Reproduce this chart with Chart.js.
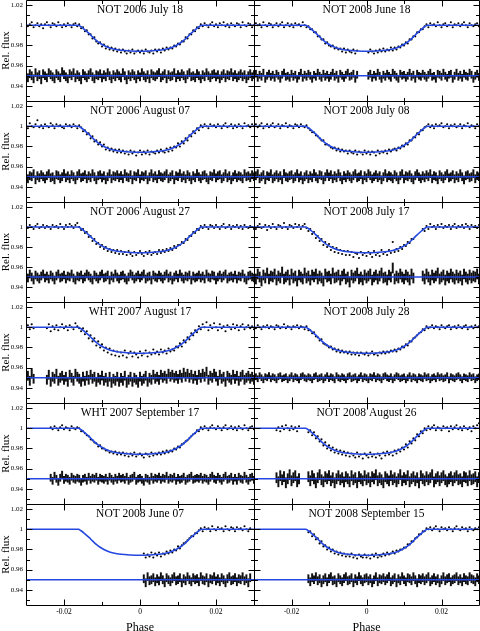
<!DOCTYPE html>
<html><head><meta charset="utf-8">
<script src="https://cdn.jsdelivr.net/npm/chart.js@4.4.1/dist/chart.umd.min.js"></script>
<style>html,body{margin:0;padding:0;background:#fff;width:480px;height:631px;overflow:hidden;position:relative}canvas{position:absolute}</style>
</head><body>
<script>
const _ = null;
// ---------- DATA ----------
const panelTitles = ["NOT 2006 July 18","NOT 2008 June 18","NOT 2006 August 07","NOT 2008 July 08",
  "NOT 2006 August 27","NOT 2008 July 17","WHT 2007 August 17","NOT 2008 July 28",
  "WHT 2007 September 17","NOT 2008 August 26","NOT 2008 June 07","NOT 2008 September 15"];
const xTickValues = [-0.02, 0, 0.02];
const xTickLabels = ["-0.02", "0", "0.02"];
const xTickMarks = [-0.02, -0.01, 0, 0.01, 0.02];
const yTickValues = [0.94, 0.96, 0.98, 1, 1.02];
const yTickLabels = ["0.94", "0.96", "0.98", "1", "1.02"];
const yTickMarks = [0.93, 0.94, 0.95, 0.96, 0.97, 0.98, 0.99, 1, 1.01, 1.02];
const residualOffset = 0.95;
const residualErr = [0.004,0.0035,0.004,0.004,0.004,0.005,0.0045,0.003,0.0035,0.005,0.004,0.004];

const modelPhase = [-.03,-.0162,-.0155,-.0145,-.0135,-.0125,-.0115,-.0105,-.0095,-.0085,-.007,-.005,-.0025,0,
  .0025,.005,.007,.0085,.0095,.0105,.0115,.0125,.0135,.0145,.0155,.0162,.03];
const modelFlux = [1,1,.9985,.9955,.9922,.9885,.985,.9822,.98,.9782,.9765,.9752,.9745,.9742,
  .9745,.9752,.9765,.9782,.98,.9822,.985,.9885,.9922,.9955,.9985,1,1];

const phase = [
-.03,-.0295,-.029,-.0285,-.028,-.0275,-.027,-.0265,-.026,-.0255,
-.025,-.0245,-.024,-.0235,-.023,-.0225,-.022,-.0215,-.021,-.0205,
-.02,-.0195,-.019,-.0185,-.018,-.0175,-.017,-.0165,-.016,-.0155,
-.015,-.0145,-.014,-.0135,-.013,-.0125,-.012,-.0115,-.011,-.0105,
-.01,-.0095,-.009,-.0085,-.008,-.0075,-.007,-.0065,-.006,-.0055,
-.005,-.0045,-.004,-.0035,-.003,-.0025,-.002,-.0015,-.001,-.0005,
0,.0005,.001,.0015,.002,.0025,.003,.0035,.004,.0045,
.005,.0055,.006,.0065,.007,.0075,.008,.0085,.009,.0095,
.01,.0105,.011,.0115,.012,.0125,.013,.0135,.014,.0145,
.015,.0155,.016,.0165,.017,.0175,.018,.0185,.019,.0195,
.02,.0205,.021,.0215,.022,.0225,.023,.0235,.024,.0245,
.025,.0255,.026,.0265,.027,.0275,.028,.0285,.029,.0295,.03];

const flux01 = [
1.002,.999,1.001,1.003,.998,1,1.002,.999,1.001,.997,
1.001,1.003,1,.998,1.002,1.001,.999,1.003,1,.998,
1.001,.999,1.002,1,.998,1.001,1.002,.999,1.001,.997,
.998,.994,.995,.991,.991,.987,.988,.984,.982,.983,
.979,.981,.977,.979,.976,.978,.975,.977,.974,.976,
.973,.976,.974,.972,.975,.973,.976,.972,.974,.975,
.973,.975,.972,.976,.974,.973,.975,.972,.976,.974,
.976,.973,.977,.975,.978,.976,.978,.977,.980,.979,
.982,.981,.984,.984,.988,.987,.991,.991,.995,.994,
.998,.997,1.001,.999,1.002,1,.998,1.001,1.003,.999,
1.001,.998,1.002,1,1.003,.999,1.001,.998,1.002,1,
.999,1.002,1.001,.998,1.003,1,.999,1.002,1.001,.998,1];
const res01 = [
.951,.948,.952,.950,.947,.953,.949,.951,.946,.952,
.950,.948,.953,.951,.949,.947,.952,.950,.948,.954,
.951,.949,.947,.952,.950,.953,.948,.951,.949,.946,
.952,.950,.948,.951,.953,.949,.947,.951,.950,.952,
.948,.951,.949,.953,.950,.947,.951,.949,.952,.950,
.948,.953,.950,.946,.951,.949,.952,.950,.947,.951,
.949,.953,.950,.948,.951,.947,.952,.950,.949,.951,
.953,.948,.950,.952,.947,.951,.949,.950,.953,.948,
.951,.949,.952,.950,.947,.951,.953,.949,.950,.948,
.952,.950,.947,.951,.949,.953,.950,.948,.951,.952,
.949,.951,.947,.950,.952,.948,.951,.950,.953,.949,
.951,.948,.950,.952,.949,.951,.947,.950,.952,.949,.951];

const flux02 = [
.999,1.002,1,1.001,.998,1.003,1,.999,1.002,1.001,
.998,1,1.002,.999,1.001,1.003,.998,1,1.002,.999,
1.001,.998,1.002,1,1.001,.999,1.003,1,.998,.999,
.996,.996,.993,.993,.989,.989,.986,.986,.982,.983,
.980,.979,.980,.977,.978,.976,.977,.974,.977,.973,
.976,.974,.973,.976,.972,.975,_,_,_,_,
_,.973,.976,.974,.972,.975,.973,.976,.974,.977,
.974,.976,.975,.978,.975,.978,.976,.979,.978,.981,
.980,.983,.982,.986,.986,.989,.989,.993,.993,.996,
.996,.999,1.001,.998,1.002,1,1.001,.999,1.003,1,
.998,1.001,1.002,.999,1,1.003,.998,1.001,1,1.002,
.999,1.001,1.003,1,.998,1.002,1,.999,1.001,1.002,.999];
const res02 = [
.950,.952,.948,.951,.949,.953,.947,.950,.952,.949,
.951,.948,.952,.950,.947,.951,.953,.949,.950,.948,
.952,.949,.951,.947,.950,.953,.948,.951,.949,.952,
.950,.947,.951,.949,.953,.950,.948,.952,.949,.951,
.948,.950,.953,.949,.951,.947,.952,.950,.948,.951,
.953,.949,.950,.952,.947,.951,_,_,_,_,
_,.950,.952,.948,.951,.949,.953,.950,.947,.951,
.949,.952,.950,.948,.953,.951,.949,.947,.952,.950,
.951,.948,.950,.953,.949,.951,.947,.952,.950,.949,
.952,.950,.948,.951,.953,.949,.950,.947,.952,.951,
.949,.953,.950,.948,.951,.952,.947,.950,.953,.949,
.951,.948,.952,.950,.949,.953,.951,.947,.950,.952,.949];

const flux03 = [
1.001,.998,1.003,1,.999,1.002,1.006,.999,1.001,.998,
1.002,1,.999,1.003,1.001,.998,1.002,1,1.001,.999,
.998,1.002,1,1.001,.999,1.002,1,.998,1.001,.999,
.995,.996,.992,.993,.988,.990,.985,.986,.982,.984,
.980,.982,.977,.979,.976,.978,.975,.977,.974,.977,
.974,.976,.973,.975,.972,.976,.973,.975,.971,.974,
.976,.972,.975,.973,.976,.972,.975,.974,.973,.976,
.974,.977,.975,.974,.978,.975,.979,.976,.980,.979,
.983,.980,.985,.983,.988,.986,.991,.990,.995,.993,
.998,.996,1.001,.999,1.002,1,.998,1.002,1,1.001,
.999,1.002,1,.998,1.001,1.003,.999,1,1.002,.998,
1.001,.999,1.002,1,.998,1.003,1,1.001,.999,1.002,1];
const res03 = [
.952,.948,.951,.950,.953,.947,.951,.949,.952,.950,
.948,.951,.953,.949,.950,.947,.952,.951,.948,.950,
.953,.949,.951,.948,.952,.950,.947,.951,.953,.949,
.950,.952,.948,.951,.949,.953,.950,.947,.951,.952,
.949,.951,.947,.950,.953,.948,.951,.950,.952,.949,
.951,.948,.953,.950,.949,.952,.947,.951,.950,.953,
.948,.951,.950,.952,.947,.950,.953,.949,.951,.948,
.952,.950,.949,.951,.953,.948,.950,.952,.947,.951,
.950,.953,.949,.951,.948,.952,.950,.947,.951,.949,
.953,.950,.948,.951,.952,.949,.947,.951,.950,.953,
.949,.951,.952,.948,.950,.953,.949,.951,.947,.950,
.952,.949,.951,.950,.948,.953,.950,.951,.949,.952,.950];

const flux04 = [
1,1.002,.999,1.001,1.003,.998,1,1.002,.999,1.001,
1.003,.999,1,1.002,.998,1.001,1,1.003,.999,1.001,
1,.998,1.002,1.001,.999,1.002,1,.999,1.001,.998,
.996,.994,.994,.991,.990,.988,.986,.986,.982,.982,
.981,.979,.978,.979,.976,.978,.975,.977,.975,.976,
.973,.976,.974,.973,.976,.972,.975,.974,.972,.976,
.973,.975,.972,.975,.974,.971,.976,.973,.975,.974,
.976,.973,.977,.975,.977,.978,.976,.979,.978,.981,
.980,.983,.982,.986,.986,.989,.989,.993,.992,.996,
.996,.999,1,1.002,.999,1.001,.998,1.002,1,1.001,
1.003,.999,1,1.002,.998,1.001,1,1.002,.999,1,
1.002,.998,1.001,1,1.003,.999,1.001,1,.998,1.002,1];
const res04 = [
.949,.951,.953,.948,.950,.952,.947,.951,.950,.953,
.948,.950,.952,.949,.951,.947,.953,.950,.949,.951,
.952,.948,.950,.953,.949,.951,.947,.950,.952,.948,
.951,.949,.953,.950,.948,.952,.951,.947,.950,.953,
.950,.952,.948,.951,.949,.953,.950,.947,.951,.949,
.952,.950,.948,.951,.953,.949,.950,.952,.947,.951,
.949,.953,.951,.948,.950,.952,.949,.951,.947,.950,
.953,.949,.951,.950,.948,.952,.950,.947,.951,.953,
.948,.951,.950,.952,.949,.947,.951,.953,.950,.948,
.951,.949,.952,.950,.953,.948,.951,.950,.947,.952,
.950,.948,.951,.953,.949,.950,.952,.948,.951,.949,
.953,.950,.947,.951,.952,.949,.950,.953,.948,.951,.950];

const flux05 = [
1.001,.999,1.002,1,.998,1.001,1.003,.999,1,1.002,
.999,1.001,1,.998,1.002,1,1.001,.999,1.003,1,
.998,1.002,1,1.003,1.001,.999,1.002,1.004,1,.997,
.998,.994,.995,.990,.991,.986,.988,.983,.984,.980,
.982,.978,.980,.976,.978,.975,.977,.974,.977,.973,
.976,.973,.975,.972,.976,.973,.971,.975,.972,.974,
.976,.973,.971,.975,.973,.976,.972,.974,.975,.973,
.977,.974,.977,.975,.978,.976,.979,.977,.981,.979,
.982,.982,.985,.984,.988,.987,.991,.991,.995,.994,
.998,.997,1.001,.999,1.002,1,.998,1.002,1.001,.999,
1.002,1,.998,1.001,1.003,.999,1,1.002,.998,1.001,
1,1.002,.999,1.001,.998,1.002,1,.999,1.001,1,.998];
const res05 = [
.951,.949,.953,.950,.947,.952,.950,.948,.951,.953,
.949,.951,.948,.952,.950,.947,.951,.953,.949,.950,
.952,.948,.951,.950,.953,.949,.947,.951,.950,.952,
.948,.950,.953,.951,.949,.947,.952,.950,.948,.951,
.953,.949,.950,.952,.947,.951,.949,.953,.950,.948,
.951,.952,.949,.947,.950,.953,.951,.948,.950,.952,
.949,.951,.953,.948,.950,.951,.947,.952,.950,.949,
.952,.950,.948,.951,.953,.949,.951,.947,.950,.952,
.949,.953,.950,.948,.951,.950,.952,.947,.951,.949,
.950,.952,.949,.951,.948,.953,.950,.949,.952,.951,
.947,.950,.952,.949,.951,.953,.948,.950,.951,.949,
.952,.948,.951,.950,.953,.949,.947,.951,.952,.950,.949];

const flux06 = [
1.002,.998,1.001,1.003,.999,1,1.002,.997,1.001,.999,
1.003,1,.998,1.002,1.001,.999,1.004,1,.998,1.002,
1.001,.999,1.003,1,1.002,.998,1.001,1.003,.999,.996,
.998,.993,.995,.989,.991,.986,.988,.982,.985,.980,
.983,.977,.980,.975,.979,.974,.977,.973,.976,.972,
.976,.972,.975,.970,.974,.973,.969,.975,.972,.974,
.971,.975,.973,.970,.976,.972,.974,.971,.977,.973,
.975,.972,.977,.974,.985,.975,.978,.976,.980,.978,
.982,.981,.985,.984,.988,.988,_,_,_,_,
.998,.996,1.001,.998,1.003,1,1.001,.998,1.002,1,
1.003,.999,1.001,1,1.002,.998,1.001,1.003,.999,1.001,
1,1.002,.999,1.003,1.001,.998,1.002,1,1.001,.999,1.002];
const res06 = [
.951,.948,.953,.950,.946,.952,.949,.954,.948,.951,
.950,.953,.947,.951,.949,.955,.948,.950,.952,.947,
.953,.949,.951,.946,.952,.950,.948,.954,.949,.951,
.947,.952,.950,.953,.948,.951,.949,.946,.953,.950,
.951,.948,.954,.949,.950,.952,.947,.951,.953,.948,
.950,.945,.952,.949,.951,.954,.948,.950,.947,.952,
.949,.951,.953,.947,.950,.952,.948,.951,.954,.949,
.950,.947,.952,.950,.959,.948,.951,.949,.953,.950,
.948,.952,.950,.947,.953,.949,_,_,_,_,
.951,.948,.953,.950,.947,.952,.949,.951,.954,.948,
.950,.952,.947,.951,.949,.953,.950,.948,.952,.949,
.951,.947,.953,.950,.948,.952,.949,.951,.950,.953,.948];

const flux07 = [
_,1.002,.998,1.003,.999,_,_,_,_,_,
_,.999,1.003,.996,1.001,.998,1.002,.997,1,1.003,
.999,1.001,.997,1.002,1,.998,1.004,1.001,.999,.996,
.999,.993,.996,.989,.992,.986,.989,.982,.986,.980,
.983,.977,.980,.975,.979,.973,.977,.972,.976,.971,
.975,.972,.977,.970,.974,.976,.971,.975,.973,.970,
.976,.972,.974,.977,.971,.975,.973,.978,.974,.976,
.973,.978,.975,.977,.974,.979,.976,.978,.977,.981,
.980,.984,.981,.987,.985,.990,.988,.994,.992,.997,
.995,1.001,.998,1.003,1,1.005,.997,1.002,.999,1.004,
1,.997,1.003,.999,1.001,.996,1.002,1,.998,1.003,
.999,1.002,.997,1.001,1.003,.998,1,1.002,.999,1.001,.998];
const res07 = [
_,.952,.947,.954,.949,_,_,_,_,_,
_,.948,.953,.946,.951,.949,.954,.947,.950,.952,
.948,.951,.946,.953,.950,.947,.954,.951,.949,.946,
.951,.947,.952,.948,.953,.949,.951,.946,.950,.948,
.952,.947,.950,.946,.951,.945,.949,.947,.951,.946,
.950,.947,.952,.945,.948,.951,.946,.950,.948,.945,
.951,.947,.949,.952,.946,.950,.948,.953,.949,.951,
.948,.953,.950,.952,.949,.954,.951,.953,.950,.952,
.949,.953,.950,.955,.951,.954,.950,.953,.949,.952,
.948,.953,.950,.954,.951,.956,.948,.952,.950,.954,
.951,.947,.953,.949,.951,.946,.952,.950,.948,.953,
.949,.952,.947,.951,.953,.948,.950,.952,.949,.951,.948];

const flux08 = [
1.001,.999,1.002,1,.998,1.001,1,1.002,.999,1.001,
1,.998,1.002,1.001,.999,1,1.003,.999,1.001,1,
.998,1.001,1,1.002,.999,1.001,1,.998,1.001,.997,
.997,.994,.995,.991,.990,.987,.988,.984,.983,.982,
.980,.981,.978,.979,.976,.978,.975,.977,.975,.976,
.974,.976,.973,.975,.973,.975,.972,.975,.974,.973,
.975,.972,.974,.976,.973,.974,.972,.975,.974,.976,
.974,.976,.975,.977,.976,.978,.976,.979,.978,.981,
.980,.983,.982,.986,.986,.989,.990,.992,.994,.995,
.998,.997,1.001,.999,1,1.002,.999,1.001,1,.998,
1.002,1,.999,1.001,1.002,.998,1,1.001,.999,1.002,
1,.999,1.001,1.002,.998,1,1.001,.999,1.002,1,1.001];
const res08 = [
.950,.951,.949,.952,.950,.948,.951,.950,.952,.949,
.951,.950,.948,.951,.952,.949,.950,.951,.948,.950,
.952,.949,.951,.950,.948,.951,.952,.950,.949,.951,
.950,.948,.951,.952,.949,.950,.951,.948,.950,.952,
.949,.951,.950,.948,.952,.950,.949,.951,.950,.948,
.951,.952,.949,.950,.951,.948,.950,.952,.949,.951,
.950,.948,.951,.950,.952,.949,.951,.950,.948,.951,
.952,.950,.949,.951,.948,.950,.952,.951,.949,.950,
.951,.948,.950,.952,.949,.951,.950,.948,.951,.950,
.949,.952,.950,.951,.948,.950,.951,.949,.952,.950,
.951,.949,.950,.952,.948,.951,.950,.949,.951,.952,
.950,.948,.951,.950,.949,.952,.950,.951,.948,.950,.951];

const flux09 = [
_,_,_,_,_,_,_,_,_,_,
_,_,_,1.001,.999,1.002,1,.998,1.001,1.003,
.999,1.001,1,.998,1.002,1,.999,1.001,1,.997,
.997,.995,.993,.992,.989,.988,.986,.985,.982,.983,
.980,.980,.978,.978,.976,.977,.975,.977,.974,.976,
.974,.976,.973,.975,.972,.975,.973,.976,.972,.974,
.975,.973,.971,.975,.974,.972,.976,.973,.975,.974,
.976,.974,.977,.975,.978,.976,.978,.977,.980,.979,
.982,.981,.984,.985,.987,.988,.990,.992,.994,.995,
.998,.997,1.001,.999,1.002,1,.998,1.001,1.003,1,
.999,1.002,1,.998,1.001,1.003,.999,1,1.002,.999,
1.001,.998,1.002,1,.999,1.003,1,.998,1.001,1.002,.999];
const res09 = [
_,_,_,_,_,_,_,_,_,_,
_,_,_,.951,.948,.953,.950,.947,.951,.954,
.949,.951,.950,.948,.952,.950,.949,.951,.950,.947,
.950,.951,.948,.952,.949,.951,.950,.952,.948,.951,
.950,.949,.951,.948,.952,.950,.948,.951,.949,.952,
.950,.951,.949,.952,.948,.950,.951,.953,.948,.950,
.951,.949,.947,.951,.950,.948,.952,.949,.951,.950,
.952,.949,.951,.950,.953,.949,.951,.950,.952,.948,
.951,.949,.950,.952,.948,.950,.951,.953,.949,.950,
.951,.950,.952,.949,.951,.950,.948,.951,.953,.950,
.949,.952,.950,.948,.951,.953,.949,.950,.952,.948,
.951,.948,.952,.950,.949,.953,.950,.948,.951,.952,.949];

const flux10 = [
_,_,_,_,_,_,_,_,_,_,
_,_,.998,1.001,.997,1.002,.999,1.003,1,.998,
1.002,.999,1.001,.997,1.002,_,_,_,_,.996,
.998,.993,.996,.990,.992,.987,.989,.983,.986,.980,
.983,.978,.981,.976,.979,.975,.978,.974,.977,.973,
.976,.972,.975,.973,.971,.976,.972,.974,.970,.975,
.973,.971,.976,.972,.974,.971,.975,.973,.970,.976,
.973,.977,.974,.976,.973,.978,.975,.979,.977,.981,
.979,.984,.981,.987,.985,.990,.988,.994,.992,.997,
.995,1,.998,1.002,.999,1.001,1.003,.998,1.001,1,
.998,1.002,1,1.001,.997,1.002,.999,1.001,1.003,.999,
1.001,.998,1.002,1,.999,1.001,.997,1.002,1,1.003,1.005];
const res10 = [
_,_,_,_,_,_,_,_,_,_,
_,_,.951,.947,.953,.949,.952,.946,.950,.954,
.948,.951,.953,.947,.950,_,_,_,_,.952,
.948,.953,.950,.946,.951,.954,.949,.947,.952,.950,
.953,.948,.951,.946,.950,.953,.949,.951,.947,.952,
.950,.947,.953,.949,.951,.946,.952,.950,.948,.953,
.949,.951,.947,.952,.950,.954,.948,.951,.949,.946,
.952,.950,.948,.953,.949,.951,.947,.950,.954,.948,
.951,.949,.953,.947,.950,.952,.948,.951,.946,.953,
.950,.948,.952,.949,.951,.954,.947,.950,.952,.948,
.951,.953,.949,.947,.950,.952,.948,.951,.953,.949,
.950,.947,.952,.951,.948,.953,.949,.950,.952,.947,.951];

const flux11 = [
_,_,_,_,_,_,_,_,_,_,
_,_,_,_,_,_,_,_,_,_,
_,_,_,_,_,_,_,_,_,_,
_,_,_,_,_,_,_,_,_,_,
_,_,_,_,_,_,_,_,_,_,
_,_,_,_,_,_,_,_,_,_,
_,_,.976,.972,.975,.973,.977,.972,.976,.974,
.977,.973,.976,.975,.978,.976,.979,.977,.980,.979,
.983,.981,.984,.986,.987,.989,.991,.993,.993,.996,
.996,.999,1.001,.998,1.002,1,1.001,.998,1.003,1,
.999,1.002,1,1.001,.998,1.003,1,.999,1.002,1.001,
.998,1.002,1,1.001,.999,1.003,1,.998,1.001,_,_];
const res11 = [
_,_,_,_,_,_,_,_,_,_,
_,_,_,_,_,_,_,_,_,_,
_,_,_,_,_,_,_,_,_,_,
_,_,_,_,_,_,_,_,_,_,
_,_,_,_,_,_,_,_,_,_,
_,_,_,_,_,_,_,_,_,_,
_,_,.951,.947,.953,.949,.950,.952,.948,.951,
.949,.953,.950,.947,.952,.950,.948,.951,.953,.949,
.950,.952,.947,.951,.949,.953,.950,.948,.952,.950,
.951,.948,.953,.950,.949,.952,.947,.951,.950,.953,
.949,.951,.948,.952,.950,.947,.951,.953,.949,.950,
.952,.948,.951,.950,.953,.949,.951,.947,.952,_,_];

const flux12 = [
_,_,_,_,_,_,_,_,_,_,
_,_,_,_,_,_,_,_,_,_,
_,_,_,_,_,_,_,_,_,.997,
.998,.993,.995,.990,.991,.986,.988,.983,.984,.980,
.982,.978,.980,.976,.978,.975,.977,.974,.976,.973,
.975,.973,.976,.972,.974,.971,.975,.973,.972,.975,
.972,.974,.971,.975,.973,.976,.972,.974,.973,.976,
.974,.977,.975,.976,.978,.976,.979,.978,.980,.980,
.982,.982,.985,.985,.988,.988,.991,.992,.995,.995,
.998,.998,1.001,1,1.002,.999,1.001,1.003,1,.998,
1.002,1,1.001,.999,1.002,1,.998,1.001,1.003,1,
.999,1.002,1,1.001,.998,1.002,1,.999,1.001,1,1.002];
const res12 = [
_,_,_,_,_,_,_,_,_,_,
_,_,_,_,_,_,_,_,_,_,
_,_,_,_,_,_,_,_,_,.951,
.948,.952,.950,.953,.949,.951,.947,.950,.952,.948,
.951,.953,.949,.950,.947,.952,.950,.948,.951,.953,
.949,.950,.952,.947,.951,.949,.953,.950,.948,.951,
.952,.949,.951,.947,.950,.953,.948,.951,.950,.952,
.949,.951,.953,.948,.950,.952,.947,.951,.949,.953,
.950,.948,.952,.951,.949,.953,.950,.947,.951,.950,
.952,.949,.951,.953,.948,.950,.952,.949,.951,.947,
.950,.953,.949,.951,.952,.948,.950,.951,.953,.949,
.951,.948,.952,.950,.949,.953,.951,.950,.948,.952,.950];

const fluxSets = [flux01,flux02,flux03,flux04,flux05,flux06,flux07,flux08,flux09,flux10,flux11,flux12];
const resSets = [res01,res02,res03,res04,res05,res06,res07,res08,res09,res10,res11,res12];

// ---------- LAYOUT / STYLE ----------
const rowTops = [0,101,202,302,403,504];
const rowBottoms = [101,202,302,403,504,605];
const BLUE = '#2447e0';
const FONT = '"Liberation Serif","DejaVu Serif",serif';

const framePlugin = {
  id: 'frame',
  afterDatasetsDraw(chart, args, opts) {
    const {ctx, chartArea: a, scales: {x, y}} = chart;
    ctx.save();
    ctx.strokeStyle = '#000'; ctx.lineWidth = 1;
    const L = Math.round(a.left) + 0.5, R = Math.round(a.right) + 0.5;
    const T = Math.round(a.top) + 0.5, B = Math.round(a.bottom) + 0.5;
    ctx.beginPath();
    ctx.rect(L, T, R - L, B - T);
    xTickMarks.forEach(v => {
      const px = Math.round(x.getPixelForValue(v)) + 0.5;
      const len = xTickValues.includes(v) ? 6 : 3.5;
      ctx.moveTo(px, T); ctx.lineTo(px, T + len);
      ctx.moveTo(px, B); ctx.lineTo(px, B - len);
    });
    yTickMarks.forEach(v => {
      const py = Math.round(y.getPixelForValue(v)) + 0.5;
      const len = yTickValues.some(t => Math.abs(t - v) < 1e-9) ? 6 : 3.5;
      ctx.moveTo(L, py); ctx.lineTo(L + len, py);
      ctx.moveTo(R, py); ctx.lineTo(R - len, py);
    });
    ctx.stroke();
    ctx.fillStyle = '#000';
    ctx.font = '11.5px ' + FONT;
    ctx.textAlign = 'center'; ctx.textBaseline = 'middle';
    ctx.fillText(opts.title, (a.left + a.right) / 2, a.top + 10);
    ctx.restore();
  }
};

function zeroScalePadding(s) {
  s.paddingTop = 0; s.paddingBottom = 0; s.paddingLeft = 0; s.paddingRight = 0;
}

panelTitles.forEach((title, k) => {
  const row = Math.floor(k / 2), col = k % 2;
  const isLeft = col === 0, isBottom = row === 5;
  const cv = document.createElement('canvas');
  const top = rowTops[row] - 2;
  const h = isBottom ? 640 - top : (rowBottoms[row] - rowTops[row]) + 4;
  const w = isLeft ? 256 : 230;
  cv.width = w; cv.height = h;
  cv.style.left = (isLeft ? 0 : 252) + 'px';
  cv.style.top = top + 'px';
  cv.style.width = w + 'px'; cv.style.height = h + 'px';
  document.body.appendChild(cv);

  const flux = fluxSets[k], res = resSets[k], err = residualErr[k];
  const lcPts = [], barPts = [];
  phase.forEach((p, i) => {
    if (flux[i] !== null && flux[i] !== undefined) lcPts.push({x: p, y: flux[i]});
    if (res[i] !== null && res[i] !== undefined) barPts.push({x: p, y: [res[i] - err, res[i] + err]});
  });
  const modelPts = modelPhase.map((p, i) => ({x: p, y: modelFlux[i]}));
  const zeroPts = [{x: -0.03, y: residualOffset}, {x: 0.03, y: residualOffset}];

  new Chart(cv, {
    type: 'scatter',
    data: { datasets: [
      {type: 'line', data: modelPts, borderColor: BLUE, borderWidth: 1.6, pointRadius: 0,
       cubicInterpolationMode: 'monotone', fill: false, order: 0},
      {type: 'line', data: zeroPts, borderColor: BLUE, borderWidth: 1.6, pointRadius: 0, fill: false, order: 1},
      {type: 'scatter', data: lcPts, pointRadius: 1.05, pointHoverRadius: 0, pointBackgroundColor: '#000',
       pointBorderWidth: 0, borderWidth: 0, order: 2},
      {type: 'bar', data: barPts, backgroundColor: '#111', barThickness: 1.3, grouped: false, order: 3}
    ]},
    options: {
      responsive: false, animation: false, events: [],
      layout: {autoPadding: false,
               padding: {left: isLeft ? 0 : 2, right: isLeft ? 2 : 3, top: 2, bottom: isBottom ? 0 : 2}},
      plugins: {legend: {display: false}, tooltip: {enabled: false}, frame: {title: title}},
      scales: {
        x: {type: 'linear', min: -0.03, max: 0.03, offset: false, display: isBottom,
            grid: {display: false, drawTicks: false}, border: {display: false},
            afterBuildTicks: s => { s.ticks = xTickValues.map(v => ({value: v})); },
            ticks: {callback: (v, i) => xTickLabels[i], font: {family: FONT, size: 7.5}, color: '#000',
                    padding: 3, maxRotation: 0, autoSkip: false},
            title: {display: true, text: 'Phase', font: {family: FONT, size: 12}, color: '#000',
                    padding: {top: 0, bottom: 5.3}},
            afterFit: s => { s.height = isBottom ? 35 : 0; zeroScalePadding(s); }},
        y: {type: 'linear', min: 0.925, max: 1.025, display: isLeft,
            grid: {display: false, drawTicks: false}, border: {display: false},
            afterBuildTicks: s => { s.ticks = yTickValues.map(v => ({value: v})); },
            ticks: {callback: (v, i) => yTickLabels[i], font: {family: FONT, size: 7}, color: '#000',
                    padding: 3, autoSkip: false},
            title: {display: true, text: 'Rel. flux', font: {family: FONT, size: 11}, color: '#000',
                    padding: {top: 0, bottom: 0}},
            afterFit: s => { s.width = isLeft ? 26 : 0; zeroScalePadding(s); }}
      }
    },
    plugins: [framePlugin]
  });
});
</script>
</body></html>
